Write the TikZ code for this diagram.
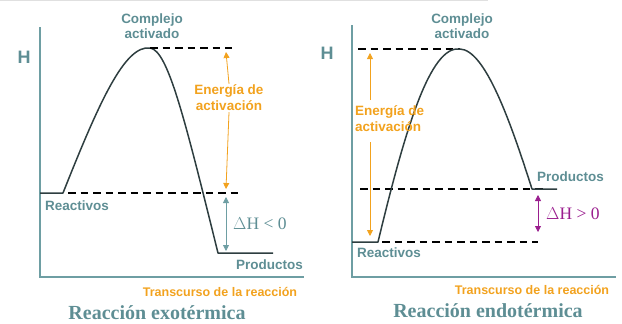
\documentclass[tikz,border=0pt]{standalone}
\usepackage{fontspec}
\setmainfont{Liberation Serif}
\setsansfont{Liberation Sans}
\usetikzlibrary{positioning,arrows.meta,calc}
\definecolor{axisC}{HTML}{6E9EA3}
\definecolor{labC}{HTML}{5E8E94}
\definecolor{curveC}{HTML}{2E3E40}
\definecolor{eaC}{HTML}{F2A21E}
\definecolor{dhC}{HTML}{9A1E8E}

\begin{document}
\begin{tikzpicture}[
	x=1pt,y=-1pt,
	axis/.style={
		draw=axisC,
		line width=1.5pt
	},
	curve/.style={
		draw=curveC,
		line width=1.5pt,
		line join=round
	},
	level/.style={
		draw=black,
		line width=1.5pt,
		dash pattern=on 7.5pt off 5pt
	},
	lab/.style={
		text=labC,
		font=\sffamily\bfseries\fontsize{13.5}{13.5}\selectfont,
		inner sep=0pt
	},
	ea/.style={
		text=eaC,
		font=\sffamily\bfseries\fontsize{13.5}{16}\selectfont,
		align=center,
		inner sep=1pt
	},
	eaArrow/.style={
		draw=eaC,
		line width=0.8pt,
		-{Triangle[length=6pt,width=6pt]}
	},
	dh/.style={
		font=\fontsize{17.5}{17.5}\selectfont,
		inner sep=0pt
	},
	xlab/.style={
		text=eaC,
		font=\sffamily\bfseries\fontsize{12.5}{12.5}\selectfont,
		inner sep=0pt
	},
	title/.style={
		text=labC,
		font=\bfseries\fontsize{20}{20}\selectfont,
		inner sep=0pt,
		text depth=0pt,
		anchor=base
	}
	]
	\useasboundingbox (0,0) rectangle (622,324);
	\draw[black!12,line width=1pt] (0,0.5) -- (488,0.5);

	% exotermica
	\coordinate (oL) at (40,277);
	\draw[axis] (40,27) -- (oL) -- (304,277);
	\node[lab,font=\sffamily\bfseries\fontsize{18}{18}\selectfont] (hL) at (24,57) {H};
	\coordinate (r0L) at (40,193);
	\coordinate (r1L) at (63,193);
	\coordinate (pkL) at (150,48);
	\coordinate (p0L) at (218,253);
	\coordinate (p1L) at (273,253);
	\draw[curve] (r0L) -- (r1L) .. controls (100,100) and (125,45) .. (pkL)
		.. controls (168,50) and (185,120) .. (p0L) -- (p1L);
	\draw[level] (pkL) -- (232,48);
	\draw[level] (68,193) -- (241,193);
	\node[lab,align=center] (caL) at (152,26) {Complejo\\[1pt]activado};
	\node[ea] (eaL) at (229,98) {Energía de\\activación};
	\draw[eaArrow] (eaL.north) -- (226,52);
	\draw[eaArrow] (eaL.south) -- (226,189);
	\coordinate (d0L) at (226,197);
	\coordinate (d1L) at (226,251);
	\coordinate (mL) at ($(d0L)!0.5!(d1L)$);
	\draw[draw=axisC,line width=0.8pt,{Triangle[length=6pt,width=6pt]}-{Triangle[length=6pt,width=6pt]}] (d0L) -- (d1L);
	\node[dh,text=labC,right=7pt of mL] (dhL) {$\Delta$H < 0};
	\node[lab,anchor=west] (reL) at (45,206) {Reactivos};
	\node[lab,anchor=west] (prL) at (236,265) {Productos};
	\node[xlab] (tL) at (220,292) {Transcurso de la reacción};
	\node[title] (ttL) at (157,319) {Reacción exotérmica};

	% endotermica
	\coordinate (oR) at (352,277);
	\draw[axis] (352,25) -- (oR) -- (616,277);
	\node[lab,font=\sffamily\bfseries\fontsize{18}{18}\selectfont] (hR) at (327,53) {H};
	\coordinate (r0R) at (352,242);
	\coordinate (r1R) at (378,242);
	\coordinate (pkR) at (460,49);
	\coordinate (p0R) at (532,189);
	\coordinate (p1R) at (557,189);
	\draw[level] (358,49) -- (pkR);
	\draw[level] (360,189) -- (543,189);
	\draw[level] (382,242) -- (538,242);
	\draw[curve] (r0R) -- (r1R) .. controls (405,130) and (430,45) .. (pkR)
		.. controls (485,50) and (510,120) .. (p0R) -- (p1R);
	\node[lab,align=center] (caR) at (462,26) {Complejo\\[1pt]activado};
	\node[ea,align=left,anchor=west] (eaR) at (354,119) {Energía de\\activación};
	\draw[eaArrow] (370,100) -- (370,53);
	\draw[eaArrow] (370,142) -- (370,236);
	\coordinate (d0R) at (538,195);
	\coordinate (d1R) at (538,232);
	\coordinate (mR) at ($(d0R)!0.5!(d1R)$);
	\draw[draw=dhC,line width=0.8pt,{Triangle[length=6pt,width=6pt]}-{Triangle[length=6pt,width=6pt]}] (d0R) -- (d1R);
	\node[dh,text=dhC,right=8pt of mR] (dhR) {$\Delta$H > 0};
	\node[lab,anchor=west] (reR) at (357,253) {Reactivos};
	\node[lab,anchor=west] (prR) at (537,177) {Productos};
	\node[xlab] (tR) at (532,290) {Transcurso de la reacción};
	\node[title] (ttR) at (488,317) {Reacción endotérmica};
\end{tikzpicture}
\end{document}
